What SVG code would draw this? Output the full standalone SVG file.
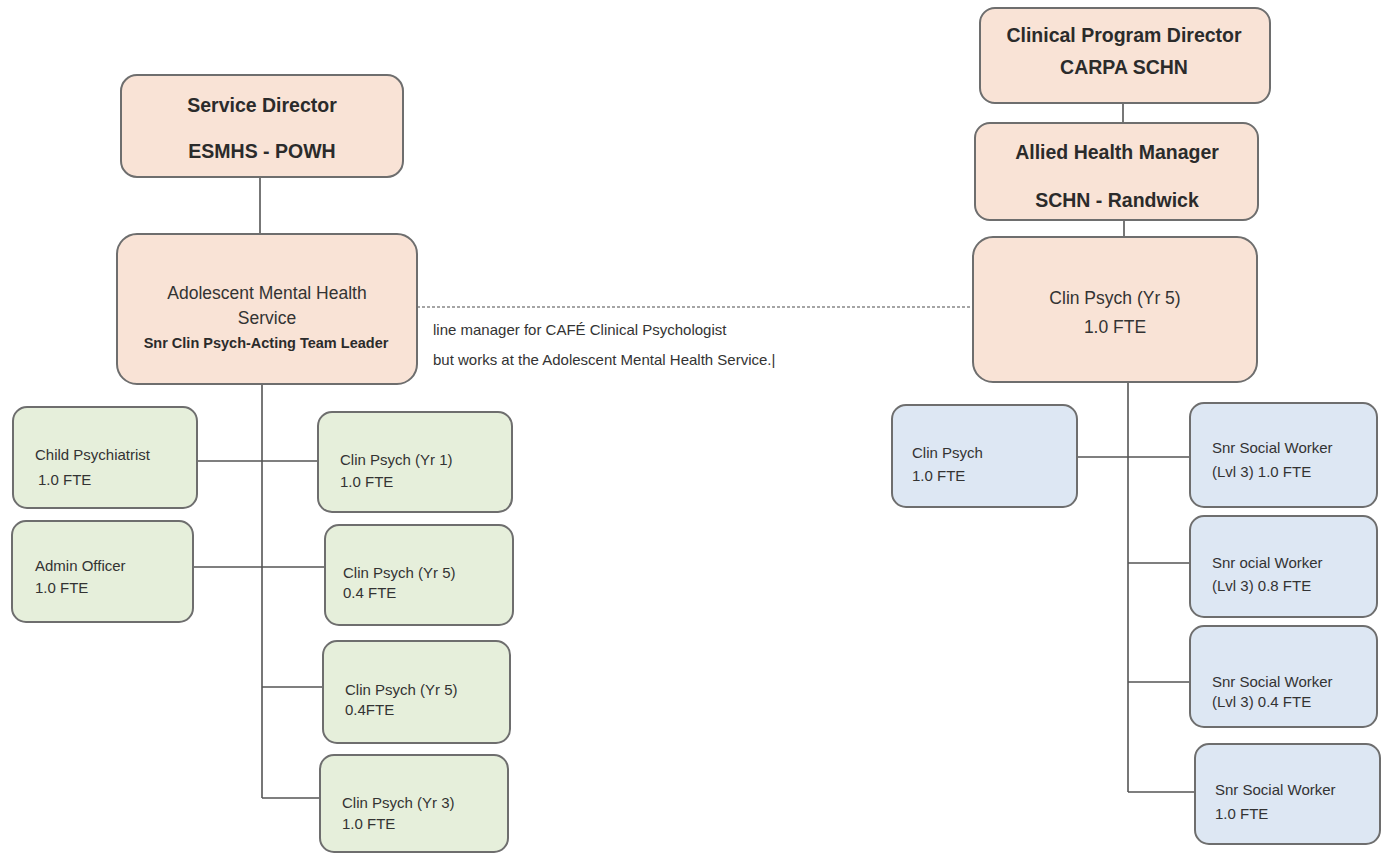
<svg xmlns="http://www.w3.org/2000/svg" width="1385" height="858" viewBox="0 0 1385 858">
<style>
.box{stroke:#6e6e6e;stroke-width:2}
.peach{fill:#f9e3d6}
.green{fill:#e6efdb}
.blue{fill:#dde7f3}
.ln{stroke:#555;stroke-width:1.6;fill:none}
.dash{stroke:#888;stroke-width:1.3;stroke-dasharray:3 2;fill:none}
text{font-family:"Liberation Sans",Arial,sans-serif;fill:#333}
.hb{font-weight:bold;font-size:19.5px;text-anchor:middle;fill:#2b2b2b}
.mid{font-size:17.5px;text-anchor:middle}
.sm{font-size:15px}
.note{font-size:15px}
</style>
<rect width="1385" height="858" fill="#ffffff"/>
<g id="connectors">
<line class="ln" x1="260" y1="177" x2="260" y2="234"/>
<line class="ln" x1="262" y1="384" x2="262" y2="798"/>
<line class="ln" x1="197" y1="461" x2="318" y2="461"/>
<line class="ln" x1="193" y1="567" x2="325" y2="567"/>
<line class="ln" x1="262" y1="687" x2="323" y2="687"/>
<line class="ln" x1="262" y1="798" x2="320" y2="798"/>
<line class="dash" x1="417" y1="307" x2="970" y2="307"/>
<line class="ln" x1="1123" y1="103" x2="1123" y2="123"/>
<line class="ln" x1="1124" y1="220" x2="1124" y2="237"/>
<line class="ln" x1="1128" y1="382" x2="1128" y2="792"/>
<line class="ln" x1="1077" y1="457" x2="1190" y2="457"/>
<line class="ln" x1="1128" y1="563" x2="1190" y2="563"/>
<line class="ln" x1="1128" y1="682" x2="1190" y2="682"/>
<line class="ln" x1="1128" y1="792" x2="1195" y2="792"/>
</g>
<g id="service-director">
<rect class="box peach" x="121" y="75" width="282" height="102" rx="16"/>
<text class="hb" x="262" y="112">Service Director</text>
<text class="hb" x="262" y="158">ESMHS - POWH</text>
</g>
<g id="amhs">
<rect class="box peach" x="117" y="234" width="300" height="150" rx="20"/>
<text class="mid" x="267" y="299">Adolescent Mental Health</text>
<text class="mid" x="267" y="324">Service</text>
<text x="266" y="348" style="font-size:14.5px;font-weight:bold;text-anchor:middle;fill:#2b2b2b">Snr Clin Psych-Acting Team Leader</text>
</g>
<g id="note">
<text class="note" x="433" y="335">line manager for CAFÉ Clinical Psychologist</text>
<text class="note" x="433" y="365">but works at the Adolescent Mental Health Service.|</text>
</g>
<g id="child-psychiatrist">
<rect class="box green" x="13" y="407" width="184" height="101" rx="14"/>
<text class="sm" x="35" y="460">Child Psychiatrist</text>
<text class="sm" x="38" y="485">1.0 FTE</text>
</g>
<g id="clin-psych-yr1">
<rect class="box green" x="318" y="412" width="194" height="100" rx="14"/>
<text class="sm" x="340" y="465">Clin Psych (Yr 1)</text>
<text class="sm" x="340" y="487">1.0 FTE</text>
</g>
<g id="admin-officer">
<rect class="box green" x="12" y="521" width="181" height="101" rx="14"/>
<text class="sm" x="35" y="571">Admin Officer</text>
<text class="sm" x="35" y="593">1.0 FTE</text>
</g>
<g id="clin-psych-yr5-a">
<rect class="box green" x="325" y="525" width="188" height="100" rx="14"/>
<text class="sm" x="343" y="578">Clin Psych (Yr 5)</text>
<text class="sm" x="343" y="598">0.4 FTE</text>
</g>
<g id="clin-psych-yr5-b">
<rect class="box green" x="323" y="641" width="187" height="102" rx="14"/>
<text class="sm" x="345" y="695">Clin Psych (Yr 5)</text>
<text class="sm" x="345" y="715">0.4FTE</text>
</g>
<g id="clin-psych-yr3">
<rect class="box green" x="320" y="755" width="188" height="97" rx="14"/>
<text class="sm" x="342" y="808">Clin Psych (Yr 3)</text>
<text class="sm" x="342" y="829">1.0 FTE</text>
</g>
<g id="clinical-program-director">
<rect class="box peach" x="980" y="8" width="290" height="95" rx="15"/>
<text class="hb" x="1124" y="42">Clinical Program Director</text>
<text class="hb" x="1124" y="74">CARPA SCHN</text>
</g>
<g id="allied-health-manager">
<rect class="box peach" x="975" y="123" width="283" height="97" rx="15"/>
<text class="hb" x="1117" y="159">Allied Health Manager</text>
<text class="hb" x="1117" y="207">SCHN - Randwick</text>
</g>
<g id="clin-psych-right">
<rect class="box peach" x="973" y="237" width="284" height="145" rx="20"/>
<text class="mid" x="1115" y="304">Clin Psych (Yr 5)</text>
<text class="mid" x="1115" y="333">1.0 FTE</text>
</g>
<g id="clin-psych-blue">
<rect class="box blue" x="892" y="405" width="185" height="102" rx="14"/>
<text class="sm" x="912" y="458">Clin Psych</text>
<text class="sm" x="912" y="481">1.0 FTE</text>
</g>
<g id="snr-sw-1">
<rect class="box blue" x="1190" y="403" width="187" height="104" rx="14"/>
<text class="sm" x="1212" y="453">Snr Social Worker</text>
<text class="sm" x="1212" y="477">(Lvl 3) 1.0 FTE</text>
</g>
<g id="snr-sw-2">
<rect class="box blue" x="1190" y="516" width="187" height="101" rx="14"/>
<text class="sm" x="1212" y="568">Snr ocial Worker</text>
<text class="sm" x="1212" y="591">(Lvl 3) 0.8 FTE</text>
</g>
<g id="snr-sw-3">
<rect class="box blue" x="1190" y="626" width="187" height="101" rx="14"/>
<text class="sm" x="1212" y="687">Snr Social Worker</text>
<text class="sm" x="1212" y="707">(Lvl 3) 0.4 FTE</text>
</g>
<g id="snr-sw-4">
<rect class="box blue" x="1195" y="744" width="185" height="100" rx="14"/>
<text class="sm" x="1215" y="795">Snr Social Worker</text>
<text class="sm" x="1215" y="819">1.0 FTE</text>
</g>
</svg>
